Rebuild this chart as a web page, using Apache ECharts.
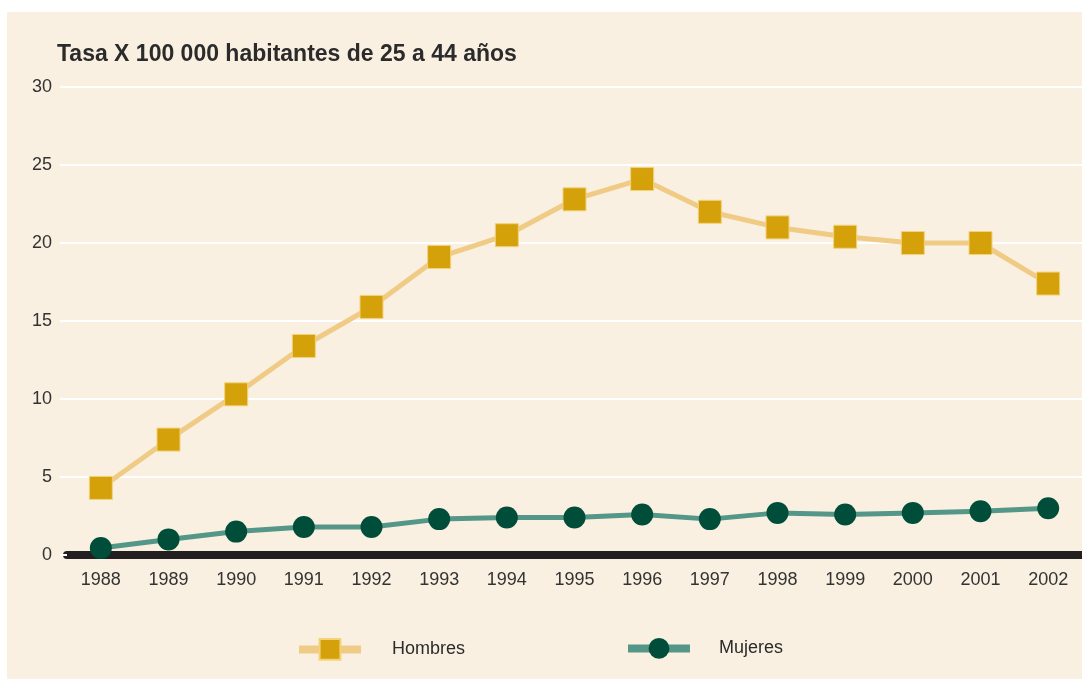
<!DOCTYPE html>
<html>
<head>
<meta charset="utf-8">
<script src="https://cdn.jsdelivr.net/npm/echarts@6/dist/echarts.min.js"></script>
<style>
  html, body { margin: 0; padding: 0; background: #fff; }
  #chart {
    position: absolute;
    left: 7px;
    top: 12px;
    width: 1075px;
    height: 667px;
    background: #f9f0e1;
  }
</style>
</head>
<body>
<div id="chart"></div>
<script>
const years = ['1988', '1989', '1990', '1991', '1992', '1993', '1994', '1995', '1996', '1997', '1998', '1999', '2000', '2001', '2002']
const hombres = [4.3, 7.4, 10.3, 13.4, 15.9, 19.1, 20.5, 22.8, 24.1, 22.0, 21.0, 20.4, 20.0, 20.0, 17.4]
const mujeres = [0.45, 1.0, 1.5, 1.8, 1.8, 2.3, 2.4, 2.4, 2.6, 2.3, 2.7, 2.6, 2.7, 2.8, 3.0]

const font = '"Liberation Sans Narrow", "Liberation Sans", Arial, sans-serif'

const chart = echarts.init(document.getElementById('chart'))
chart.setOption({
  animation: false,
  title: {
    text: 'Tasa X 100 000 habitantes de 25 a 44 años',
    left: 45,
    top: 26,
    textStyle: {
      fontFamily: font,
      fontSize: 23,
      fontWeight: 'bold',
      color: '#2b2b2b',
    },
  },
  grid: {
    left: 60,
    right: 0,
    top: 75,
    bottom: 124,
  },
  legend: [{
    data: ['Hombres'],
    left: 283,
    top: 621,
    itemWidth: 62,
    itemHeight: 26,
    lineStyle: { width: 8 },
    textStyle: { fontFamily: font, fontSize: 18, color: '#2b2b2b', padding: [0, 0, 0, 26] },
  }, {
    data: ['Mujeres'],
    left: 612,
    top: 621,
    itemWidth: 62,
    itemHeight: 26,
    lineStyle: { width: 8 },
    textStyle: { fontFamily: font, fontSize: 18, color: '#2b2b2b', padding: [0, 0, 0, 24] },
  }],
  xAxis: {
    type: 'category',
    data: years,
    boundaryGap: true,
    axisLine: { lineStyle: { color: '#231f20', width: 8 } },
    axisTick: { show: false },
    axisLabel: {
      fontFamily: font,
      fontSize: 18,
      color: '#333',
      margin: 16,
    },
  },
  yAxis: {
    type: 'value',
    min: 0,
    max: 30,
    interval: 5,
    axisLine: { show: false },
    axisTick: { show: true, length: 7, lineStyle: { color: '#ffffff', width: 2 } },
    splitLine: { lineStyle: { color: '#ffffff', width: 2 } },
    axisLabel: {
      fontFamily: font,
      fontSize: 18,
      color: '#333',
      margin: 15,
    },
  },
  series: [{
    name: 'Hombres',
    type: 'line',
    data: hombres,
    symbol: 'rect',
    symbolSize: 23,
    lineStyle: { color: '#efcb85', width: 5 },
    itemStyle: { color: '#d4a10a', borderColor: '#f3d27a', borderWidth: 1 },
    z: 3,
  }, {
    name: 'Mujeres',
    type: 'line',
    data: mujeres,
    symbol: 'circle',
    symbolSize: 22,
    lineStyle: { color: '#549687', width: 5 },
    itemStyle: { color: '#004d3a' },
    z: 4,
  }],
})
</script>
</body>
</html>
